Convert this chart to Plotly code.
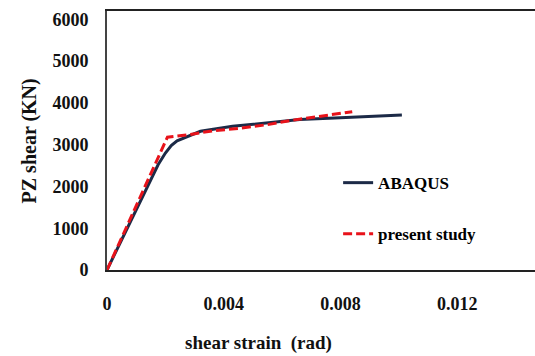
import plotly.graph_objects as go

# ABAQUS curve
abaqus_strain = [0, 0.0010, 0.00175, 0.0020, 0.0022, 0.0024, 0.0027, 0.0032, 0.0043, 0.0055, 0.0066, 0.0078, 0.0089, 0.0101]
abaqus_shear = [0, 1460, 2520, 2800, 2980, 3090, 3180, 3320, 3440, 3530, 3600, 3640, 3670, 3710]

# present study curve
present_strain = [0, 0.00207, 0.0028, 0.0036, 0.0045, 0.0055, 0.0063, 0.0075, 0.0084]
present_shear = [0, 3180, 3240, 3330, 3390, 3480, 3580, 3690, 3790]

x_ticks = [0, 0.004, 0.008, 0.012]
x_ticklabels = ["0", "0.004", "0.008", "0.012"]
y_ticks = [0, 1000, 2000, 3000, 4000, 5000, 6000]

FONT = "Liberation Serif, Times New Roman, serif"

fig = go.Figure()
fig.add_trace(go.Scatter(x=abaqus_strain, y=abaqus_shear, mode="lines", name="<b>ABAQUS</b>",
                         line=dict(color="#1c2a47", width=3), legendgroup="a"))
fig.add_trace(go.Scatter(x=present_strain, y=present_shear, mode="lines", name="<b>present study</b>",
                         line=dict(color="#e8121a", width=3, dash="9px,4px"), legendgroup="b"))

fig.update_layout(
    width=535, height=356,
    margin=dict(l=107, r=0, t=11, b=86),
    plot_bgcolor="white", paper_bgcolor="white",
    font=dict(family=FONT, size=17, color="black"),
    showlegend=True,
    legend=dict(x=0.54, y=0.405, xanchor="left", yanchor="top",
                font=dict(family=FONT, size=17, color="black"),
                tracegroupgap=26, bgcolor="rgba(0,0,0,0)"),
    xaxis=dict(range=[0, 0.01466], tickvals=x_ticks, ticktext=[f"<b>{t}</b>" for t in x_ticklabels],
               showgrid=False, zeroline=False, showline=True, linecolor="#222", linewidth=2,
               mirror=True, ticks="", ticklabelstandoff=16,
               tickfont=dict(family=FONT, size=18, color="#111")),
    yaxis=dict(range=[0, 6200], tickvals=y_ticks, ticktext=[f"<b>{t}</b>" for t in y_ticks],
               showgrid=False, zeroline=False, showline=True, linecolor="#444", linewidth=2,
               ticks="", ticklabelstandoff=13,
               tickfont=dict(family=FONT, size=18, color="#111")),
    annotations=[
        dict(text="<b>shear strain  (rad)</b>", xref="paper", yref="paper", x=0.178, y=-0.282,
             xanchor="left", yanchor="middle", showarrow=False,
             font=dict(family=FONT, size=19, color="#111")),
        dict(text="<b>PZ shear (KN)</b>", xref="paper", yref="paper", x=-0.18, y=0.5,
             xanchor="center", yanchor="middle", showarrow=False, textangle=-90,
             font=dict(family=FONT, size=20, color="#111")),
    ],
)

fig.write_html("out.html")
